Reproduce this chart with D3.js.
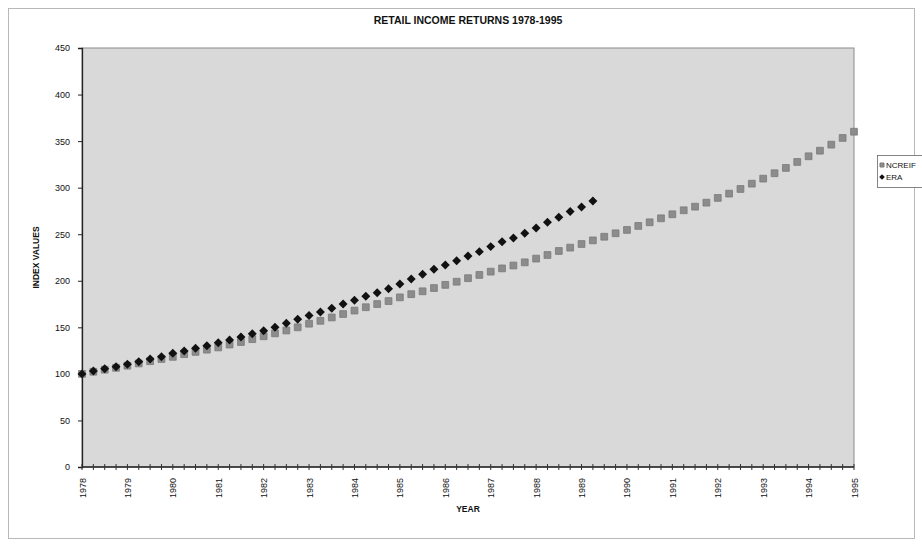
<!DOCTYPE html>
<html>
<head>
<meta charset="utf-8">
<script src="https://cdn.jsdelivr.net/npm/d3@7"></script>
<style>
  html, body { margin: 0; padding: 0; background: #fff; }
  svg text { font-family: "Liberation Sans", Arial, sans-serif; fill: #111; }
</style>
</head>
<body>
<svg id="chart" width="922" height="550"></svg>
<script>
// Quarterly index values, first quarter 1978 = 100
const startYear = 1978;
const endYear = 1995;
const yearLabels = d3.range(startYear, endYear + 1).map(String);
const yTicks = [0, 50, 100, 150, 200, 250, 300, 350, 400, 450];

const ncreif = [
  100.0, 102.3, 104.5, 106.5,
  108.8, 111.2, 113.6, 116.0,
  118.3, 121.2, 123.6, 126.0,
  128.4, 131.5, 134.2, 137.3,
  140.4, 143.5, 146.6, 150.0,
  153.9, 157.0, 160.6, 164.3,
  168.0, 171.6, 175.0, 178.2,
  182.2, 185.6, 188.7, 192.2,
  195.6, 199.0, 202.8, 206.3,
  209.8, 213.3, 216.4, 219.8,
  223.8, 227.7, 232.0, 235.6,
  239.5, 243.4, 247.3, 251.0,
  254.6, 258.9, 262.8, 267.1,
  271.4, 275.7, 279.6, 283.9,
  289.0, 293.6, 298.6, 304.3,
  309.7, 315.5, 321.2, 327.6,
  333.7, 339.7, 346.2, 353.4,
  360.1
];

const era = [
  100.0, 103.0, 105.6, 107.7,
  110.3, 113.1, 116.0, 118.5,
  122.1, 124.6, 127.5, 130.3,
  133.5, 136.4, 139.6, 143.2,
  146.4, 150.0, 154.3, 158.6,
  162.7, 166.5, 170.5, 175.1,
  179.0, 183.4, 187.2, 191.5,
  196.6, 202.0, 207.0, 212.4,
  217.0, 221.6, 226.6, 231.3,
  236.7, 242.0, 246.0, 251.0,
  256.7, 262.8, 268.2, 274.3,
  279.3, 285.7
];

const seriesNames = ["NCREIF", "ERA"];

const svg = d3.select("#chart");
const plot = { left: 82, right: 854, top: 48, bottom: 467 };

const x = d3.scaleLinear().domain([startYear, endYear]).range([plot.left, plot.right]);
const y = d3.scaleLinear().domain([0, 450]).range([plot.bottom, plot.top]);

// outer chart frame
svg.append("rect")
  .attr("x", 8.5).attr("y", 8.5).attr("width", 906).attr("height", 530)
  .attr("fill", "#fff").attr("stroke", "#b8b8b8").attr("stroke-width", 1);

// title
svg.append("text")
  .attr("x", (plot.left + plot.right) / 2).attr("y", 24)
  .attr("text-anchor", "middle")
  .style("font-size", "10.5px").style("font-weight", "bold")
  .text("RETAIL INCOME RETURNS 1978-1995");

// plot area
svg.append("rect")
  .attr("x", plot.left).attr("y", plot.top)
  .attr("width", plot.right - plot.left).attr("height", plot.bottom - plot.top)
  .attr("fill", "#d9d9d9").attr("stroke", "#8c8c8c").attr("stroke-width", 1);

// y axis
const yAxis = d3.axisLeft(y).tickValues(yTicks).tickSize(4).tickPadding(8);
const gy = svg.append("g").attr("transform", `translate(${plot.left},0)`).call(yAxis);
gy.select(".domain").attr("stroke", "#222").attr("stroke-width", 1.3);
gy.selectAll(".tick line").attr("stroke", "#222");
gy.selectAll("text").style("font-size", "9px").attr("fill", "#111");

// x axis: quarterly ticks crossing the axis line, a year label each January
const quarters = d3.range(0, (endYear - startYear) * 4 + 1).map(q => startYear + q / 4);
const gx = svg.append("g").attr("transform", `translate(0,${plot.bottom})`);
gx.append("line")
  .attr("x1", plot.left).attr("x2", plot.right)
  .attr("stroke", "#222").attr("stroke-width", 1.3);
gx.selectAll("line.qtick").data(quarters).join("line")
  .attr("class", "qtick")
  .attr("x1", d => x(d)).attr("x2", d => x(d))
  .attr("y1", -3).attr("y2", 3)
  .attr("stroke", "#333").attr("stroke-width", 1);
gx.selectAll("text.year").data(yearLabels).join("text")
  .attr("class", "year")
  .attr("transform", d => `translate(${x(+d) + 3.5},${11}) rotate(-90)`)
  .attr("text-anchor", "end")
  .style("font-size", "9px")
  .text(d => d);

// axis titles
svg.append("text")
  .attr("x", (plot.left + plot.right) / 2).attr("y", 512)
  .attr("text-anchor", "middle")
  .style("font-size", "8.5px").style("font-weight", "bold")
  .text("YEAR");
svg.append("text")
  .attr("transform", `translate(39,${(plot.top + plot.bottom) / 2}) rotate(-90)`)
  .attr("text-anchor", "middle")
  .style("font-size", "8.5px").style("font-weight", "bold")
  .text("INDEX VALUES");

// markers: grey squares and black diamonds (square turned 45 degrees)
const qx = i => x(startYear + i / 4);
const square = d3.symbol().type(d3.symbolSquare).size(46);
const diamond = d3.symbol().type(d3.symbolSquare).size(40);

svg.append("g").selectAll("path").data(ncreif).join("path")
  .attr("d", square)
  .attr("transform", (d, i) => `translate(${qx(i)},${y(d)})`)
  .attr("fill", "#8c8c8c").attr("stroke", "#7a7a7a").attr("stroke-width", 0.8);

svg.append("g").selectAll("path").data(era).join("path")
  .attr("d", diamond)
  .attr("transform", (d, i) => `translate(${qx(i)},${y(d)}) rotate(45)`)
  .attr("fill", "#111");

// legend, partly clipped by the right edge
const lg = svg.append("g").attr("transform", "translate(877,155)");
lg.append("rect").attr("x", 0.5).attr("y", 0.5).attr("width", 60).attr("height", 32)
  .attr("fill", "#fff").attr("stroke", "#666").attr("stroke-width", 0.8);
seriesNames.forEach((name, i) => {
  const row = lg.append("g").attr("transform", `translate(0,${10 + i * 12})`);
  row.append("path")
    .attr("d", d3.symbol().type(d3.symbolSquare).size(16)())
    .attr("transform", i === 0 ? "translate(5,0)" : "translate(5,0) rotate(45)")
    .attr("fill", i === 0 ? "#8c8c8c" : "#111")
    .attr("stroke", i === 0 ? "#7a7a7a" : "none");
  row.append("text").attr("x", 9).attr("y", 3)
    .style("font-size", "8px").text(name);
});
</script>
</body>
</html>
